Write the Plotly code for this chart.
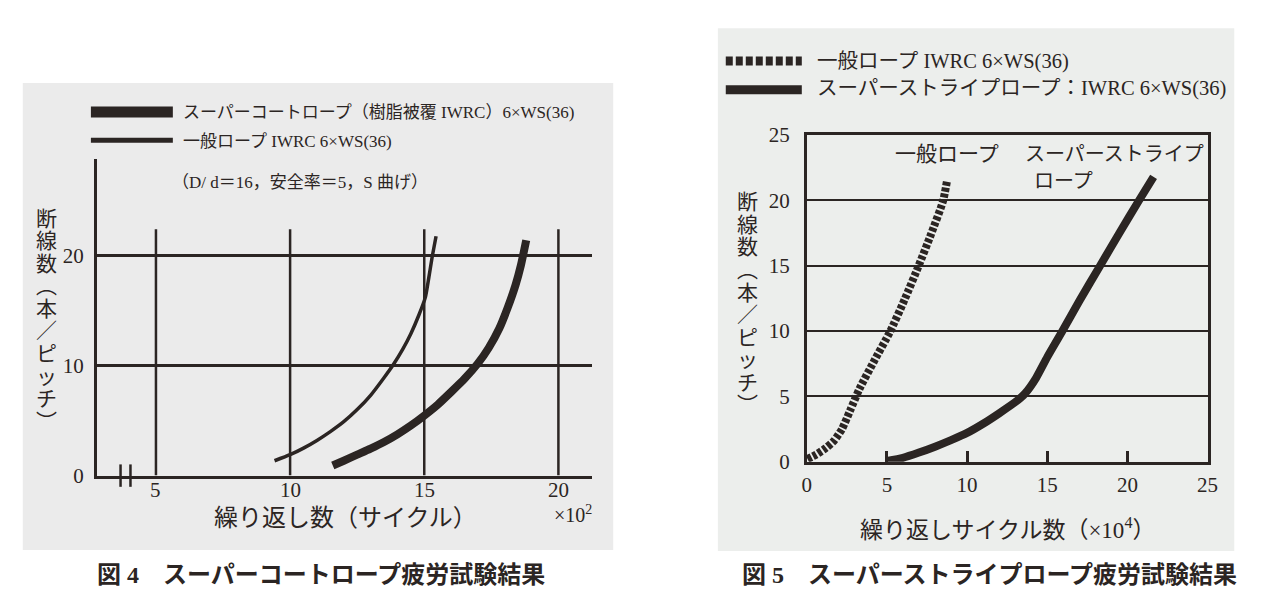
import plotly.graph_objects as go

W, H = 1266, 613
C = '#2b2523'
FONT = 'Liberation Serif, Noto Sans CJK JP'

# ---------------- Fig.4 data (x: cycles x10^2, y: breaks per pitch) ----------------
fig4_x_ticks = [5, 10, 15, 20]
fig4_y_ticks = [0, 10, 20]
fig4_vgrid_top = 22.4
fig4_break_x = [3.68, 4.05]
fig4_normal_x = [9.42, 10.0, 10.5, 11.0, 11.5, 12.0, 12.5, 13.0, 13.5, 13.85, 14.2, 14.5, 14.8, 15.04, 15.17, 15.29, 15.44]
fig4_normal_y = [1.35, 1.9, 2.5, 3.2, 4.0, 4.9, 6.0, 7.3, 8.9, 10.1, 11.5, 12.9, 14.6, 16.2, 18.0, 19.8, 21.76]
fig4_coat_x = [11.59, 12.0, 12.5, 13.0, 13.5, 14.0, 14.5, 15.0, 15.5, 16.0, 16.5, 17.0, 17.4, 17.8, 18.1, 18.4, 18.6, 18.8]
fig4_coat_y = [0.92, 1.35, 1.9, 2.45, 3.05, 3.75, 4.55, 5.46, 6.45, 7.6, 8.8, 10.2, 11.6, 13.4, 15.2, 17.3, 19.1, 21.4]

# ---------------- Fig.5 data (x: cycles x10^4, y: breaks per pitch) ----------------
fig5_ticks = [0, 5, 10, 15, 20, 25]
fig5_normal_x = [0.05, 0.6, 1.2, 1.7, 2.2, 2.7, 3.3, 4.2, 5.21, 6.1, 6.96, 7.75, 8.5, 8.75]
fig5_normal_y = [0.2, 0.55, 1.05, 1.6, 2.5, 3.9, 5.6, 7.7, 9.98, 12.4, 14.93, 17.4, 19.95, 21.5]
fig5_stripe_x = [5.0, 6.0, 7.0, 8.0, 9.0, 10.0, 11.0, 12.0, 13.0, 13.6, 14.3, 15.0, 15.9, 17.0, 18.25, 19.5, 20.7, 21.63]
fig5_stripe_y = [0.05, 0.3, 0.7, 1.15, 1.65, 2.2, 2.9, 3.7, 4.55, 5.2, 6.4, 8.0, 9.9, 12.3, 14.9, 17.5, 19.95, 21.8]

legend4 = ['スーパーコートロープ（樹脂被覆 IWRC）6×WS(36)', '一般ロープ IWRC 6×WS(36)']
legend5 = ['一般ロープ IWRC 6×WS(36)', 'スーパーストライプロープ：IWRC 6×WS(36)']
ytitle_chars = ['断', '線', '数', '︵', '本', '／', 'ピ', 'ッ', 'チ', '︶']


def px(x):
    return x / W


def py(y):
    return 1 - y / H


fig = go.Figure()

# Fig.4 curves
fig.add_trace(go.Scatter(x=fig4_coat_x, y=fig4_coat_y, mode='lines', xaxis='x', yaxis='y',
                         line=dict(color=C, width=8, shape='spline', smoothing=0.6),
                         showlegend=False, hoverinfo='skip'))
fig.add_trace(go.Scatter(x=fig4_normal_x, y=fig4_normal_y, mode='lines', xaxis='x', yaxis='y',
                         line=dict(color=C, width=3.5, shape='spline', smoothing=0.6),
                         showlegend=False, hoverinfo='skip'))
# axis break marks
fig.add_trace(go.Scatter(x=fig4_break_x, y=[0, 0], mode='markers', xaxis='x', yaxis='y',
                         marker=dict(symbol='line-ns', size=16, line=dict(color=C, width=2.5)),
                         cliponaxis=False, showlegend=False, hoverinfo='skip'))

# Fig.5 curves
fig.add_trace(go.Scatter(x=fig5_normal_x, y=fig5_normal_y, mode='lines', xaxis='x2', yaxis='y2',
                         line=dict(color=C, width=8, dash='4px,2px', shape='spline', smoothing=0.6),
                         showlegend=False, hoverinfo='skip'))
fig.add_trace(go.Scatter(x=fig5_stripe_x, y=fig5_stripe_y, mode='lines', xaxis='x2', yaxis='y2',
                         line=dict(color=C, width=8, shape='spline', smoothing=0.6),
                         showlegend=False, hoverinfo='skip'))

shapes = [
    dict(type='rect', xref='paper', yref='paper', x0=px(18), x1=px(616), y0=py(560), y1=py(74),
         fillcolor='#ebebeb', line=dict(width=0), layer='below'),
    dict(type='rect', xref='paper', yref='paper', x0=px(722), x1=px(1245), y0=py(561), y1=py(17),
         fillcolor='#eceeec', line=dict(width=0), layer='below'),
]
for v in fig4_x_ticks:
    shapes.append(dict(type='line', xref='x', yref='y', x0=v, x1=v, y0=0, y1=fig4_vgrid_top,
                       line=dict(color=C, width=2.5), layer='below'))
# legend samples
shapes += [
    dict(type='line', xref='paper', yref='paper', x0=px(87), x1=px(170), y0=py(104), y1=py(104),
         line=dict(color=C, width=11)),
    dict(type='line', xref='paper', yref='paper', x0=px(87), x1=px(170), y0=py(133.5), y1=py(133.5),
         line=dict(color=C, width=5)),
    dict(type='line', xref='paper', yref='paper', x0=px(730), x1=px(807), y0=py(51), y1=py(51),
         line=dict(color=C, width=9, dash='7px,3px')),
    dict(type='line', xref='paper', yref='paper', x0=px(730), x1=px(807), y0=py(81), y1=py(81),
         line=dict(color=C, width=9)),
]

ann = []


def text(t, x, y, size, xanchor='left', bold=False):
    ann.append(dict(text=t, x=px(x), y=py(y), xref='paper', yref='paper', showarrow=False,
                    xanchor=xanchor, yanchor='middle',
                    font=dict(family=FONT, size=size, color=C, weight='bold' if bold else 'normal')))


# Fig.4 x tick labels placed through the x axis scale
for v in fig4_x_ticks:
    ann.append(dict(text=str(v), x=v, y=py(497), xref='x', yref='paper', showarrow=False,
                    xanchor='center', yanchor='middle', font=dict(family=FONT, size=21, color=C)))

text(legend4[0], 178, 105, 17)
text(legend4[1], 178, 135, 17)
text('（D/ d＝16，安全率＝5，S 曲げ）', 167, 177, 17)
text('繰り返し数（サイクル）', 345, 527, 24, 'center')
text('×10<sup>2</sup>', 575, 522, 20, 'center')
for i, ch in enumerate(ytitle_chars):
    text(ch, 42, 215 + i * 23.5, 21, 'center')

text(legend5[0], 820, 51, 20.5)
text(legend5[1], 820, 80, 20.5)
text('一般ロープ', 954, 148, 21, 'center')
text('スーパーストライプ', 1124, 148, 20, 'center')
text('ロープ', 1072, 176, 20, 'center')
text('繰り返しサイクル数（×10<sup>4</sup>）', 1015, 538, 23, 'center')
for i, ch in enumerate(ytitle_chars):
    text(ch, 752, 198 + i * 23.5, 21, 'center')

text('図 4　スーパーコートロープ疲労試験結果', 320, 586, 24, 'center', bold=True)
text('図 5　スーパーストライプロープ疲労試験結果', 997, 586, 24, 'center', bold=True)

tickfont = dict(family=FONT, size=21, color=C)

fig.update_layout(
    width=W, height=H, margin=dict(l=0, r=0, t=0, b=0),
    paper_bgcolor='white', plot_bgcolor='rgba(0,0,0,0)',
    showlegend=False, shapes=shapes, annotations=ann,
    xaxis=dict(domain=[px(93), px(595)], range=[2.796, 21.27], anchor='y',
               showline=True, linecolor=C, linewidth=2.5, showgrid=False, zeroline=False,
               tickmode='array', tickvals=fig4_x_ticks, ticks='', showticklabels=False,
               fixedrange=True),
    yaxis=dict(domain=[py(482.5), py(153)], range=[0, 28.78], anchor='x',
               showline=True, linecolor=C, linewidth=2.5, showgrid=True, gridcolor=C, gridwidth=2.5,
               zeroline=False, tickmode='array', tickvals=fig4_y_ticks, ticks='', ticklen=0,
               tickfont=tickfont, ticklabelstandoff=6, fixedrange=True),
    xaxis2=dict(domain=[px(812), px(1218)], range=[0, 25], anchor='y2',
                showline=True, mirror=True, linecolor=C, linewidth=2.5, showgrid=False, zeroline=False,
                tickmode='array', tickvals=fig5_ticks, ticks='inside', ticklen=11, tickwidth=2.5,
                tickcolor=C, tickfont=tickfont, ticklabelstandoff=2, fixedrange=True),
    yaxis2=dict(domain=[py(468), py(128)], range=[0, 25], anchor='x2',
                showline=True, mirror=True, linecolor=C, linewidth=2.5, showgrid=True, gridcolor=C,
                gridwidth=2, zeroline=False, tickmode='array', tickvals=fig5_ticks, ticks='',
                tickfont=tickfont, ticklabelstandoff=10, fixedrange=True),
)

fig.write_html('out.html')
